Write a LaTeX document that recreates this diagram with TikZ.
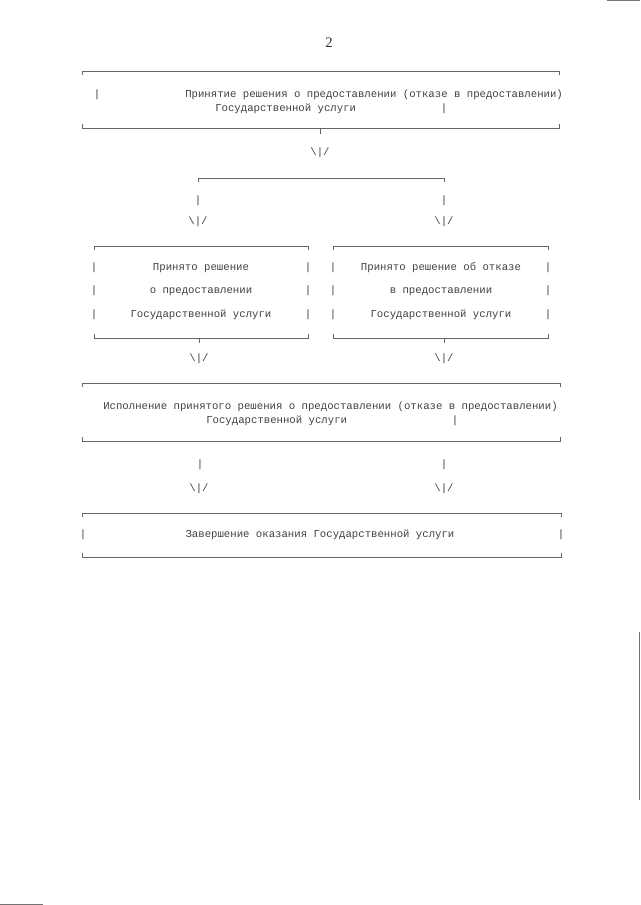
\documentclass[tikz,border=0pt]{standalone}
\usepackage{fontspec}
\setmainfont{Liberation Serif}
\setmonofont{Liberation Mono}

\begin{document}
\begin{tikzpicture}[x=0.75pt,y=-0.75pt,
    rule/.style={draw=black!60,line width=0.7pt},
    scan/.style={draw=black!55,line width=1pt},
    txt/.style={inner sep=0pt,text height=6pt,text depth=2pt,
                font=\ttfamily\fontsize{8}{10}\selectfont,text=black!75},
    down/.style={txt}]
  \useasboundingbox (0,0) rectangle (640,905);
  \node[font=\fontsize{11}{13}\selectfont,text=black!80] (page) at (329,43) {2};

  % frames of the blocks
  \foreach \l/\r/\t/\b in {82/559/71/128, 94/308/246/338, 333/548/246/338,
                           82/560/383/441, 82/561/513/557}
  {
    \draw[rule] (\l,\t+4) -- (\l,\t) -- (\r,\t) -- (\r,\t+4);
    \draw[rule] (\l,\b-4) -- (\l,\b) -- (\r,\b) -- (\r,\b-4);
  }

  % block 1
  \node[txt] (b1l) at (97,95) {|};
  \node[txt,anchor=west] (b1a) at (185,95) {Принятие решения о предоставлении (отказе в предоставлении)};
  \node[txt,anchor=west] (b1b) at (215,109) {Государственной услуги};
  \node[txt] (b1r) at (444,109) {|};
  \coordinate (b1out) at (320,128);
  \coordinate (b1tick) at (320,134);
  \draw[rule] (b1out) -- (b1tick);
  \node[down] (d1) at (320,153) {\textbackslash|/};

  % branch
  \coordinate (brl) at (198,178);
  \coordinate (brr) at (444,178);
  \draw[rule] ([yshift=-3pt]brl) -- (brl) -- (brr) -- ([yshift=-3pt]brr);
  \node[txt] (vl1) at (198,201) {|};
  \node[txt] (vr1) at (444,201) {|};
  \node[down] (dl1) at (198,222) {\textbackslash|/};
  \node[down] (dr1) at (444,222) {\textbackslash|/};

  % block 2, left: granted
  \foreach \y in {268,291,315}
  {
    \node[txt] at (94,\y) {|};
    \node[txt] at (308,\y) {|};
    \node[txt] at (333,\y) {|};
    \node[txt] at (548,\y) {|};
  }
  \node[txt] (yes1) at (201,268) {Принято решение};
  \node[txt] (yes2) at (201,291) {о предоставлении};
  \node[txt] (yes3) at (201,315) {Государственной услуги};
  % block 2, right: refused
  \node[txt] (no1) at (441,268) {Принято решение об отказе};
  \node[txt] (no2) at (441,291) {в предоставлении};
  \node[txt] (no3) at (441,315) {Государственной услуги};

  \coordinate (yesout) at (199,338);
  \coordinate (noout) at (444,338);
  \draw[rule] (yesout) -- ++(0,5);
  \draw[rule] (noout) -- ++(0,5);
  \node[down] (dl2) at (199,359) {\textbackslash|/};
  \node[down] (dr2) at (444,359) {\textbackslash|/};

  % block 3
  \node[txt,anchor=west] (b3a) at (103,407) {Исполнение принятого решения о предоставлении (отказе в предоставлении)};
  \node[txt,anchor=west] (b3b) at (206,421) {Государственной услуги};
  \node[txt] (b3r) at (455,421) {|};
  \node[txt] (vl3) at (200,465) {|};
  \node[txt] (vr3) at (444,465) {|};
  \node[down] (dl3) at (199,489) {\textbackslash|/};
  \node[down] (dr3) at (444,489) {\textbackslash|/};

  % block 4
  \node[txt] (b4l) at (83,535) {|};
  \node[txt] (b4) at (320,535) {Завершение оказания Государственной услуги};
  \node[txt] (b4r) at (561,535) {|};

  % scan edges
  \draw[scan] (607,0.7) -- (640,0.7);
  \draw[scan] (639.3,632) -- (639.3,800);
  \draw[scan] (0,904.3) -- (43,904.3);
\end{tikzpicture}
\end{document}
